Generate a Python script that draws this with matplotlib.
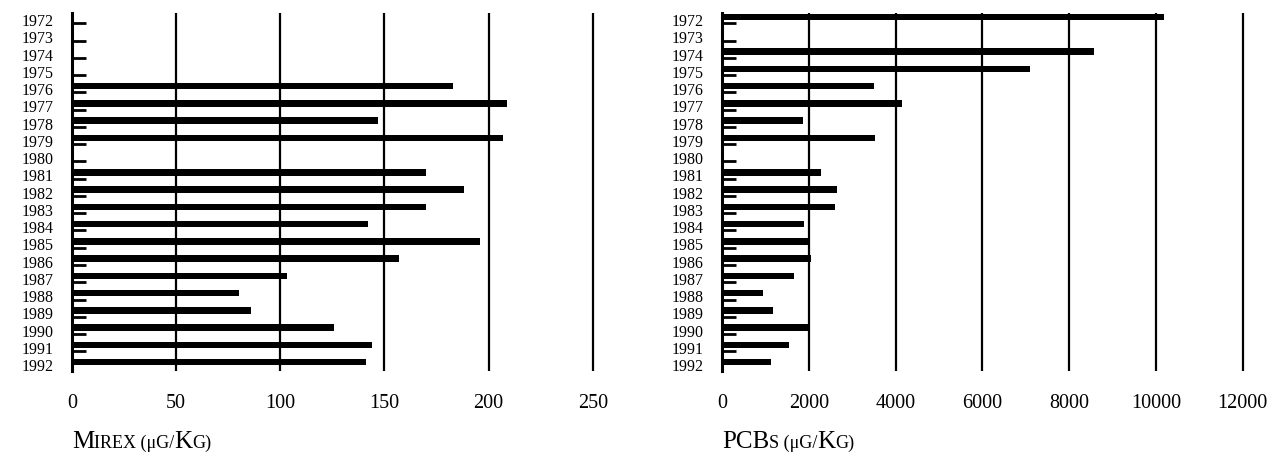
import matplotlib
matplotlib.use("Agg")
import matplotlib.pyplot as plt
import numpy as np

nan = np.nan

years = [1972, 1973, 1974, 1975, 1976, 1977, 1978, 1979, 1980, 1981, 1982,
         1983, 1984, 1985, 1986, 1987, 1988, 1989, 1990, 1991, 1992]
mirex = [nan, nan, nan, nan, 183, 209, 147, 207, nan, 170, 188,
         170, 142, 196, 157, 103, 80, 86, 126, 144, 141]
pcbs = [10190, nan, 8580, 7100, 3500, 4160, 1870, 3520, nan, 2280, 2660,
        2610, 1880, 1980, 2060, 1660, 940, 1180, 1980, 1550, 1140]

mirex_ticks = [0, 50, 100, 150, 200, 250]
pcb_ticks = [0, 2000, 4000, 6000, 8000, 10000, 12000]

mirex_label = [("M", 18), ("IREX (μG/", 13), ("K", 18), ("G)", 13)]
pcb_label = [("PCB", 18), ("S (μG/", 13), ("K", 18), ("G)", 13)]

plt.rcParams['font.family'] = ['Liberation Serif', 'DejaVu Serif']


def small_caps(ax, parts, y=-0.212):
    # fake small caps: chain pieces on one baseline
    t = ax.text(0, y, parts[0][0], fontsize=parts[0][1],
                transform=ax.transAxes, ha='left', va='baseline')
    for s, fs in parts[1:]:
        t = ax.annotate(s, xy=(1, y), xycoords=(t, ax.transAxes),
                        fontsize=fs, ha='left', va='baseline')


def draw_panel(ax, values, ticks, xmax, label):
    pos = np.arange(len(years))
    ax.barh(pos - 0.12, values, height=0.38, color='black')
    ax.set_xlim(0, xmax)
    ax.set_ylim(len(years) - 0.6, -0.35)
    ax.set_xticks(ticks)
    ax.set_xticklabels([str(t) for t in ticks], fontsize=14.5)
    ax.set_yticks(pos)
    ax.set_yticklabels([str(y) for y in years], fontsize=11.5)
    ax.set_yticks(pos[:-1] + 0.25, minor=True)
    ax.tick_params(axis='x', length=0, pad=16)
    ax.tick_params(axis='y', which='major', length=0, pad=13)
    ax.tick_params(axis='y', which='minor', direction='in', length=10,
                   width=2, left=True)
    for s in ['top', 'right', 'bottom']:
        ax.spines[s].set_visible(False)
    ax.spines['left'].set_linewidth(2.2)
    for t in ticks[1:]:
        ax.axvline(t, color='black', linewidth=1.6, zorder=0)
    small_caps(ax, label)


fig = plt.figure(figsize=(12.83, 4.56), dpi=100)
ax1 = fig.add_axes([0.0561, 0.184, 0.4076, 0.785])
ax2 = fig.add_axes([0.5627, 0.184, 0.4076, 0.785])

draw_panel(ax1, mirex, mirex_ticks, 251, mirex_label)
draw_panel(ax2, pcbs, pcb_ticks, 12050, pcb_label)

fig.savefig("out.png", dpi=100)
plt.close(fig)
